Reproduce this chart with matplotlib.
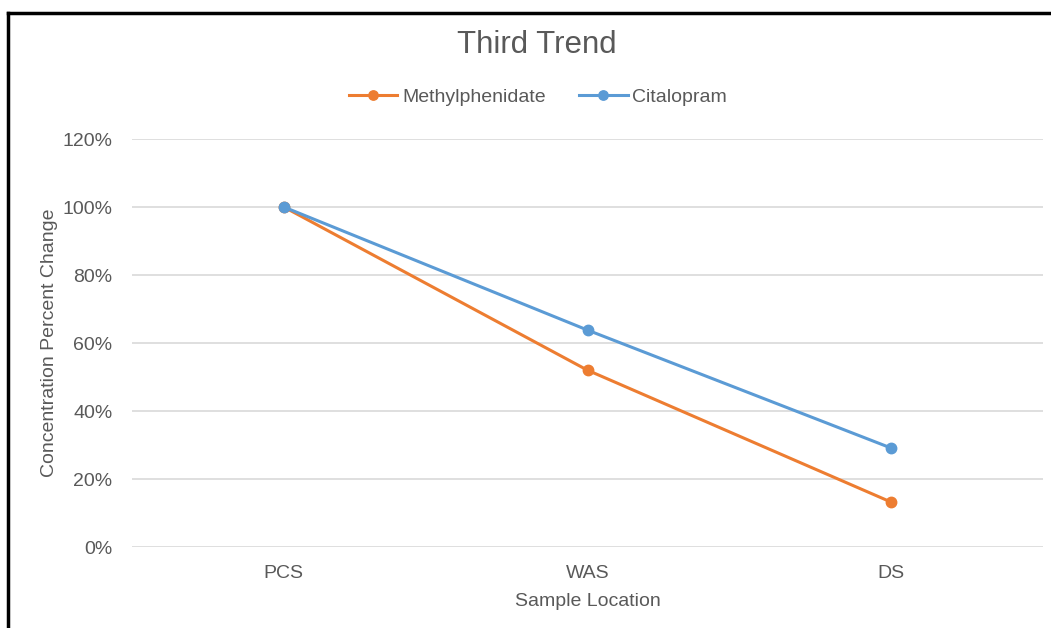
import matplotlib
matplotlib.use("Agg")
import matplotlib.pyplot as plt
from matplotlib.lines import Line2D
from matplotlib.ticker import PercentFormatter

plt.rcParams["font.family"] = ["Liberation Sans", "DejaVu Sans"]

LOCATIONS = ["PCS", "WAS", "DS"]
METHYLPHENIDATE = [100, 52, 13.2]
CITALOPRAM = [100, 63.8, 29.1]

ORANGE = "#ED7D31"
BLUE = "#5B9BD5"
TEXT = "#595959"
FS = 14

fig = plt.figure(figsize=(10.51, 6.28), dpi=100)
ax = fig.add_axes([132 / 1051, 1 - 547 / 628, (1043 - 132) / 1051, (547 - 139) / 628])

x = [i + 0.5 for i in range(len(LOCATIONS))]
ax.plot(x, METHYLPHENIDATE, color=ORANGE, lw=2.2, marker="o", ms=7.5,
        label="Methylphenidate", zorder=3)
ax.plot(x, CITALOPRAM, color=BLUE, lw=2.2, marker="o", ms=7.5,
        label="Citalopram", zorder=4)

ax.set_xlim(0, len(LOCATIONS))
ax.set_ylim(0, 120)
ax.set_yticks(range(0, 121, 20))
ax.yaxis.set_major_formatter(PercentFormatter(decimals=0))
ax.set_xticks(x)
ax.set_xticklabels(LOCATIONS)
ax.grid(axis="y", color="#D9D9D9", lw=1.2)
ax.set_axisbelow(True)
for s in ax.spines.values():
    s.set_visible(False)
ax.tick_params(length=0, labelsize=FS, colors=TEXT)
ax.tick_params(axis="x", pad=13)
ax.tick_params(axis="y", pad=14)

ax.set_xlabel("Sample Location", fontsize=FS, color=TEXT, labelpad=8)
ax.set_ylabel("Concentration Percent Change", fontsize=FS, color=TEXT, labelpad=3)

fig.text(537 / 1051, 1 - 45 / 628, "Third Trend", ha="center", va="center",
         fontsize=22.5, color=TEXT)
fig.legend(loc="center", bbox_to_anchor=(538 / 1051, 1 - 97 / 628), ncol=2,
           frameon=False, fontsize=FS, labelcolor=TEXT, handlelength=2.5,
           columnspacing=1.7, handletextpad=0.25, markerscale=0.9)

# frame edges of the chart area
fig.add_artist(Line2D([7.5 / 1051, 1], [1 - 13 / 628] * 2, color="black", lw=2.5,
                      transform=fig.transFigure))
fig.add_artist(Line2D([7.5 / 1051] * 2, [0, 1 - 13 / 628], color="black", lw=2.5,
                      transform=fig.transFigure))

fig.savefig("out.png", dpi=100)
